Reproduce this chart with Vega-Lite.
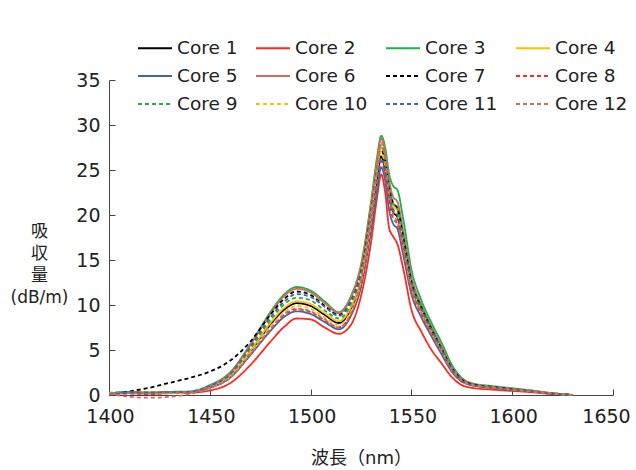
{
"$schema":"https://vega.github.io/schema/vega-lite/v6.json",
"width":504,"height":315,
"autosize":{"type":"none"},
"padding":{"left":109,"top":80,"right":23,"bottom":75},
"background":"white",
"config":{"view":{"stroke":null},"font":"DejaVu Sans"},
"data":{"values":[
{"core":"Core 1","nm":1400,"dB":0.2},{"core":"Core 1","nm":1410,"dB":0.3},{"core":"Core 1","nm":1420,"dB":0.25},{"core":"Core 1","nm":1430,"dB":0.3},{"core":"Core 1","nm":1440,"dB":0.35},{"core":"Core 1","nm":1450,"dB":0.9},{"core":"Core 1","nm":1460,"dB":2.1},{"core":"Core 1","nm":1470,"dB":4.8},{"core":"Core 1","nm":1480,"dB":7.8},{"core":"Core 1","nm":1487,"dB":9.5},{"core":"Core 1","nm":1493,"dB":10.2},{"core":"Core 1","nm":1500,"dB":9.9},{"core":"Core 1","nm":1507,"dB":8.9},{"core":"Core 1","nm":1514,"dB":8.0},{"core":"Core 1","nm":1520,"dB":9.6},{"core":"Core 1","nm":1525,"dB":12.8},{"core":"Core 1","nm":1530,"dB":19.3},{"core":"Core 1","nm":1533,"dB":24.0},{"core":"Core 1","nm":1535,"dB":26.5},{"core":"Core 1","nm":1537,"dB":25.0},{"core":"Core 1","nm":1539,"dB":22.0},{"core":"Core 1","nm":1541,"dB":20.3},{"core":"Core 1","nm":1543,"dB":19.8},{"core":"Core 1","nm":1546,"dB":16.5},{"core":"Core 1","nm":1550,"dB":12.0},{"core":"Core 1","nm":1555,"dB":9.3},{"core":"Core 1","nm":1560,"dB":7.0},{"core":"Core 1","nm":1565,"dB":4.9},{"core":"Core 1","nm":1570,"dB":2.9},{"core":"Core 1","nm":1575,"dB":1.7},{"core":"Core 1","nm":1580,"dB":1.2},{"core":"Core 1","nm":1590,"dB":0.85},{"core":"Core 1","nm":1600,"dB":0.6},{"core":"Core 1","nm":1610,"dB":0.4},{"core":"Core 1","nm":1620,"dB":0.15},{"core":"Core 1","nm":1630,"dB":0.0},
{"core":"Core 2","nm":1400,"dB":0.1},{"core":"Core 2","nm":1410,"dB":0.2},{"core":"Core 2","nm":1420,"dB":0.15},{"core":"Core 2","nm":1430,"dB":0.2},{"core":"Core 2","nm":1440,"dB":0.25},{"core":"Core 2","nm":1450,"dB":0.5},{"core":"Core 2","nm":1460,"dB":1.3},{"core":"Core 2","nm":1470,"dB":3.3},{"core":"Core 2","nm":1480,"dB":5.9},{"core":"Core 2","nm":1487,"dB":7.6},{"core":"Core 2","nm":1493,"dB":8.5},{"core":"Core 2","nm":1500,"dB":8.4},{"core":"Core 2","nm":1507,"dB":7.5},{"core":"Core 2","nm":1514,"dB":6.8},{"core":"Core 2","nm":1520,"dB":7.8},{"core":"Core 2","nm":1525,"dB":11.0},{"core":"Core 2","nm":1530,"dB":17.0},{"core":"Core 2","nm":1533,"dB":22.0},{"core":"Core 2","nm":1535,"dB":24.5},{"core":"Core 2","nm":1537,"dB":22.5},{"core":"Core 2","nm":1539,"dB":18.5},{"core":"Core 2","nm":1541,"dB":17.6},{"core":"Core 2","nm":1543,"dB":16.8},{"core":"Core 2","nm":1546,"dB":14.0},{"core":"Core 2","nm":1550,"dB":9.5},{"core":"Core 2","nm":1555,"dB":7.0},{"core":"Core 2","nm":1560,"dB":5.0},{"core":"Core 2","nm":1565,"dB":3.5},{"core":"Core 2","nm":1570,"dB":2.0},{"core":"Core 2","nm":1575,"dB":1.1},{"core":"Core 2","nm":1580,"dB":0.8},{"core":"Core 2","nm":1590,"dB":0.6},{"core":"Core 2","nm":1600,"dB":0.45},{"core":"Core 2","nm":1610,"dB":0.3},{"core":"Core 2","nm":1620,"dB":0.1},{"core":"Core 2","nm":1630,"dB":0.0},
{"core":"Core 3","nm":1400,"dB":0.2},{"core":"Core 3","nm":1410,"dB":0.3},{"core":"Core 3","nm":1420,"dB":0.3},{"core":"Core 3","nm":1430,"dB":0.35},{"core":"Core 3","nm":1440,"dB":0.4},{"core":"Core 3","nm":1450,"dB":1.1},{"core":"Core 3","nm":1460,"dB":2.5},{"core":"Core 3","nm":1470,"dB":5.6},{"core":"Core 3","nm":1480,"dB":9.2},{"core":"Core 3","nm":1487,"dB":11.2},{"core":"Core 3","nm":1493,"dB":12.0},{"core":"Core 3","nm":1500,"dB":11.6},{"core":"Core 3","nm":1507,"dB":10.4},{"core":"Core 3","nm":1514,"dB":9.2},{"core":"Core 3","nm":1520,"dB":11.0},{"core":"Core 3","nm":1525,"dB":14.5},{"core":"Core 3","nm":1530,"dB":21.5},{"core":"Core 3","nm":1533,"dB":26.5},{"core":"Core 3","nm":1535,"dB":28.8},{"core":"Core 3","nm":1537,"dB":27.5},{"core":"Core 3","nm":1539,"dB":24.5},{"core":"Core 3","nm":1541,"dB":23.2},{"core":"Core 3","nm":1543,"dB":22.8},{"core":"Core 3","nm":1546,"dB":19.5},{"core":"Core 3","nm":1550,"dB":14.0},{"core":"Core 3","nm":1555,"dB":10.5},{"core":"Core 3","nm":1560,"dB":8.0},{"core":"Core 3","nm":1565,"dB":5.8},{"core":"Core 3","nm":1570,"dB":3.4},{"core":"Core 3","nm":1575,"dB":1.9},{"core":"Core 3","nm":1580,"dB":1.3},{"core":"Core 3","nm":1590,"dB":1.0},{"core":"Core 3","nm":1600,"dB":0.75},{"core":"Core 3","nm":1610,"dB":0.5},{"core":"Core 3","nm":1620,"dB":0.2},{"core":"Core 3","nm":1630,"dB":0.0},
{"core":"Core 4","nm":1400,"dB":0.25},{"core":"Core 4","nm":1410,"dB":0.2},{"core":"Core 4","nm":1420,"dB":0.3},{"core":"Core 4","nm":1430,"dB":0.25},{"core":"Core 4","nm":1440,"dB":0.35},{"core":"Core 4","nm":1450,"dB":0.9},{"core":"Core 4","nm":1460,"dB":2.1},{"core":"Core 4","nm":1470,"dB":4.9},{"core":"Core 4","nm":1480,"dB":8.0},{"core":"Core 4","nm":1487,"dB":9.7},{"core":"Core 4","nm":1493,"dB":10.4},{"core":"Core 4","nm":1500,"dB":10.1},{"core":"Core 4","nm":1507,"dB":9.1},{"core":"Core 4","nm":1514,"dB":8.2},{"core":"Core 4","nm":1520,"dB":9.8},{"core":"Core 4","nm":1525,"dB":13.1},{"core":"Core 4","nm":1530,"dB":19.8},{"core":"Core 4","nm":1533,"dB":24.8},{"core":"Core 4","nm":1535,"dB":27.5},{"core":"Core 4","nm":1537,"dB":26.0},{"core":"Core 4","nm":1539,"dB":22.8},{"core":"Core 4","nm":1541,"dB":21.0},{"core":"Core 4","nm":1543,"dB":20.5},{"core":"Core 4","nm":1546,"dB":17.0},{"core":"Core 4","nm":1550,"dB":12.3},{"core":"Core 4","nm":1555,"dB":9.5},{"core":"Core 4","nm":1560,"dB":7.2},{"core":"Core 4","nm":1565,"dB":5.0},{"core":"Core 4","nm":1570,"dB":3.0},{"core":"Core 4","nm":1575,"dB":1.7},{"core":"Core 4","nm":1580,"dB":1.2},{"core":"Core 4","nm":1590,"dB":0.9},{"core":"Core 4","nm":1600,"dB":0.65},{"core":"Core 4","nm":1610,"dB":0.45},{"core":"Core 4","nm":1620,"dB":0.2},{"core":"Core 4","nm":1630,"dB":0.0},
{"core":"Core 5","nm":1400,"dB":0.15},{"core":"Core 5","nm":1410,"dB":0.25},{"core":"Core 5","nm":1420,"dB":0.2},{"core":"Core 5","nm":1430,"dB":0.3},{"core":"Core 5","nm":1440,"dB":0.3},{"core":"Core 5","nm":1450,"dB":0.8},{"core":"Core 5","nm":1460,"dB":1.9},{"core":"Core 5","nm":1470,"dB":4.4},{"core":"Core 5","nm":1480,"dB":7.1},{"core":"Core 5","nm":1487,"dB":8.7},{"core":"Core 5","nm":1493,"dB":9.3},{"core":"Core 5","nm":1500,"dB":9.0},{"core":"Core 5","nm":1507,"dB":8.1},{"core":"Core 5","nm":1514,"dB":7.3},{"core":"Core 5","nm":1520,"dB":8.8},{"core":"Core 5","nm":1525,"dB":12.0},{"core":"Core 5","nm":1530,"dB":18.3},{"core":"Core 5","nm":1533,"dB":22.8},{"core":"Core 5","nm":1535,"dB":25.3},{"core":"Core 5","nm":1537,"dB":23.8},{"core":"Core 5","nm":1539,"dB":20.5},{"core":"Core 5","nm":1541,"dB":19.0},{"core":"Core 5","nm":1543,"dB":18.5},{"core":"Core 5","nm":1546,"dB":15.5},{"core":"Core 5","nm":1550,"dB":11.2},{"core":"Core 5","nm":1555,"dB":8.6},{"core":"Core 5","nm":1560,"dB":6.5},{"core":"Core 5","nm":1565,"dB":4.5},{"core":"Core 5","nm":1570,"dB":2.6},{"core":"Core 5","nm":1575,"dB":1.5},{"core":"Core 5","nm":1580,"dB":1.1},{"core":"Core 5","nm":1590,"dB":0.8},{"core":"Core 5","nm":1600,"dB":0.6},{"core":"Core 5","nm":1610,"dB":0.4},{"core":"Core 5","nm":1620,"dB":0.15},{"core":"Core 5","nm":1630,"dB":0.0},
{"core":"Core 6","nm":1400,"dB":0.1},{"core":"Core 6","nm":1410,"dB":0.2},{"core":"Core 6","nm":1420,"dB":0.2},{"core":"Core 6","nm":1430,"dB":0.25},{"core":"Core 6","nm":1440,"dB":0.3},{"core":"Core 6","nm":1450,"dB":1.0},{"core":"Core 6","nm":1460,"dB":2.4},{"core":"Core 6","nm":1470,"dB":5.5},{"core":"Core 6","nm":1480,"dB":9.0},{"core":"Core 6","nm":1487,"dB":11.0},{"core":"Core 6","nm":1493,"dB":11.8},{"core":"Core 6","nm":1500,"dB":11.4},{"core":"Core 6","nm":1507,"dB":10.2},{"core":"Core 6","nm":1514,"dB":9.1},{"core":"Core 6","nm":1520,"dB":10.8},{"core":"Core 6","nm":1525,"dB":14.2},{"core":"Core 6","nm":1530,"dB":21.2},{"core":"Core 6","nm":1533,"dB":26.0},{"core":"Core 6","nm":1535,"dB":28.5},{"core":"Core 6","nm":1537,"dB":27.0},{"core":"Core 6","nm":1539,"dB":23.8},{"core":"Core 6","nm":1541,"dB":22.0},{"core":"Core 6","nm":1543,"dB":21.5},{"core":"Core 6","nm":1546,"dB":18.2},{"core":"Core 6","nm":1550,"dB":13.2},{"core":"Core 6","nm":1555,"dB":10.0},{"core":"Core 6","nm":1560,"dB":7.6},{"core":"Core 6","nm":1565,"dB":5.4},{"core":"Core 6","nm":1570,"dB":3.1},{"core":"Core 6","nm":1575,"dB":1.8},{"core":"Core 6","nm":1580,"dB":1.3},{"core":"Core 6","nm":1590,"dB":0.9},{"core":"Core 6","nm":1600,"dB":0.7},{"core":"Core 6","nm":1610,"dB":0.45},{"core":"Core 6","nm":1620,"dB":0.2},{"core":"Core 6","nm":1630,"dB":0.0},
{"core":"Core 7","nm":1400,"dB":0.1},{"core":"Core 7","nm":1410,"dB":0.4},{"core":"Core 7","nm":1420,"dB":0.8},{"core":"Core 7","nm":1430,"dB":1.35},{"core":"Core 7","nm":1440,"dB":1.9},{"core":"Core 7","nm":1450,"dB":2.6},{"core":"Core 7","nm":1460,"dB":3.8},{"core":"Core 7","nm":1470,"dB":5.9},{"core":"Core 7","nm":1480,"dB":8.9},{"core":"Core 7","nm":1487,"dB":10.7},{"core":"Core 7","nm":1493,"dB":11.5},{"core":"Core 7","nm":1500,"dB":11.1},{"core":"Core 7","nm":1507,"dB":9.9},{"core":"Core 7","nm":1514,"dB":8.9},{"core":"Core 7","nm":1520,"dB":10.4},{"core":"Core 7","nm":1525,"dB":13.6},{"core":"Core 7","nm":1530,"dB":20.3},{"core":"Core 7","nm":1533,"dB":25.0},{"core":"Core 7","nm":1535,"dB":27.2},{"core":"Core 7","nm":1537,"dB":26.0},{"core":"Core 7","nm":1539,"dB":23.0},{"core":"Core 7","nm":1541,"dB":21.3},{"core":"Core 7","nm":1543,"dB":20.8},{"core":"Core 7","nm":1546,"dB":17.5},{"core":"Core 7","nm":1550,"dB":12.6},{"core":"Core 7","nm":1555,"dB":9.7},{"core":"Core 7","nm":1560,"dB":7.3},{"core":"Core 7","nm":1565,"dB":5.1},{"core":"Core 7","nm":1570,"dB":3.0},{"core":"Core 7","nm":1575,"dB":1.7},{"core":"Core 7","nm":1580,"dB":1.2},{"core":"Core 7","nm":1590,"dB":0.9},{"core":"Core 7","nm":1600,"dB":0.65},{"core":"Core 7","nm":1610,"dB":0.4},{"core":"Core 7","nm":1620,"dB":0.15},{"core":"Core 7","nm":1630,"dB":0.0},
{"core":"Core 8","nm":1400,"dB":0.2},{"core":"Core 8","nm":1410,"dB":0.15},{"core":"Core 8","nm":1420,"dB":0.1},{"core":"Core 8","nm":1430,"dB":0.2},{"core":"Core 8","nm":1440,"dB":0.3},{"core":"Core 8","nm":1450,"dB":0.8},{"core":"Core 8","nm":1460,"dB":1.9},{"core":"Core 8","nm":1470,"dB":4.5},{"core":"Core 8","nm":1480,"dB":7.3},{"core":"Core 8","nm":1487,"dB":8.9},{"core":"Core 8","nm":1493,"dB":9.5},{"core":"Core 8","nm":1500,"dB":9.2},{"core":"Core 8","nm":1507,"dB":8.3},{"core":"Core 8","nm":1514,"dB":7.5},{"core":"Core 8","nm":1520,"dB":9.0},{"core":"Core 8","nm":1525,"dB":12.3},{"core":"Core 8","nm":1530,"dB":18.8},{"core":"Core 8","nm":1533,"dB":23.5},{"core":"Core 8","nm":1535,"dB":26.0},{"core":"Core 8","nm":1537,"dB":24.4},{"core":"Core 8","nm":1539,"dB":21.2},{"core":"Core 8","nm":1541,"dB":19.6},{"core":"Core 8","nm":1543,"dB":19.0},{"core":"Core 8","nm":1546,"dB":15.9},{"core":"Core 8","nm":1550,"dB":11.5},{"core":"Core 8","nm":1555,"dB":8.9},{"core":"Core 8","nm":1560,"dB":6.7},{"core":"Core 8","nm":1565,"dB":4.7},{"core":"Core 8","nm":1570,"dB":2.7},{"core":"Core 8","nm":1575,"dB":1.5},{"core":"Core 8","nm":1580,"dB":1.1},{"core":"Core 8","nm":1590,"dB":0.8},{"core":"Core 8","nm":1600,"dB":0.55},{"core":"Core 8","nm":1610,"dB":0.35},{"core":"Core 8","nm":1620,"dB":0.15},{"core":"Core 8","nm":1630,"dB":0.0},
{"core":"Core 9","nm":1400,"dB":0.25},{"core":"Core 9","nm":1410,"dB":0.3},{"core":"Core 9","nm":1420,"dB":0.2},{"core":"Core 9","nm":1430,"dB":0.3},{"core":"Core 9","nm":1440,"dB":0.35},{"core":"Core 9","nm":1450,"dB":0.9},{"core":"Core 9","nm":1460,"dB":2.2},{"core":"Core 9","nm":1470,"dB":5.1},{"core":"Core 9","nm":1480,"dB":8.3},{"core":"Core 9","nm":1487,"dB":10.1},{"core":"Core 9","nm":1493,"dB":10.8},{"core":"Core 9","nm":1500,"dB":10.5},{"core":"Core 9","nm":1507,"dB":9.4},{"core":"Core 9","nm":1514,"dB":8.5},{"core":"Core 9","nm":1520,"dB":10.1},{"core":"Core 9","nm":1525,"dB":13.4},{"core":"Core 9","nm":1530,"dB":20.2},{"core":"Core 9","nm":1533,"dB":25.1},{"core":"Core 9","nm":1535,"dB":27.8},{"core":"Core 9","nm":1537,"dB":26.3},{"core":"Core 9","nm":1539,"dB":23.0},{"core":"Core 9","nm":1541,"dB":21.3},{"core":"Core 9","nm":1543,"dB":20.8},{"core":"Core 9","nm":1546,"dB":17.4},{"core":"Core 9","nm":1550,"dB":12.6},{"core":"Core 9","nm":1555,"dB":9.8},{"core":"Core 9","nm":1560,"dB":7.4},{"core":"Core 9","nm":1565,"dB":5.2},{"core":"Core 9","nm":1570,"dB":3.0},{"core":"Core 9","nm":1575,"dB":1.7},{"core":"Core 9","nm":1580,"dB":1.2},{"core":"Core 9","nm":1590,"dB":0.9},{"core":"Core 9","nm":1600,"dB":0.65},{"core":"Core 9","nm":1610,"dB":0.45},{"core":"Core 9","nm":1620,"dB":0.2},{"core":"Core 9","nm":1630,"dB":0.0},
{"core":"Core 10","nm":1400,"dB":0.2},{"core":"Core 10","nm":1410,"dB":0.25},{"core":"Core 10","nm":1420,"dB":0.3},{"core":"Core 10","nm":1430,"dB":0.2},{"core":"Core 10","nm":1440,"dB":0.3},{"core":"Core 10","nm":1450,"dB":0.85},{"core":"Core 10","nm":1460,"dB":2.0},{"core":"Core 10","nm":1470,"dB":4.7},{"core":"Core 10","nm":1480,"dB":7.6},{"core":"Core 10","nm":1487,"dB":9.2},{"core":"Core 10","nm":1493,"dB":9.9},{"core":"Core 10","nm":1500,"dB":9.6},{"core":"Core 10","nm":1507,"dB":8.6},{"core":"Core 10","nm":1514,"dB":7.8},{"core":"Core 10","nm":1520,"dB":9.3},{"core":"Core 10","nm":1525,"dB":12.6},{"core":"Core 10","nm":1530,"dB":19.2},{"core":"Core 10","nm":1533,"dB":24.2},{"core":"Core 10","nm":1535,"dB":27.0},{"core":"Core 10","nm":1537,"dB":25.4},{"core":"Core 10","nm":1539,"dB":22.2},{"core":"Core 10","nm":1541,"dB":20.5},{"core":"Core 10","nm":1543,"dB":20.0},{"core":"Core 10","nm":1546,"dB":16.7},{"core":"Core 10","nm":1550,"dB":12.0},{"core":"Core 10","nm":1555,"dB":9.3},{"core":"Core 10","nm":1560,"dB":7.0},{"core":"Core 10","nm":1565,"dB":4.9},{"core":"Core 10","nm":1570,"dB":2.9},{"core":"Core 10","nm":1575,"dB":1.6},{"core":"Core 10","nm":1580,"dB":1.1},{"core":"Core 10","nm":1590,"dB":0.85},{"core":"Core 10","nm":1600,"dB":0.6},{"core":"Core 10","nm":1610,"dB":0.4},{"core":"Core 10","nm":1620,"dB":0.15},{"core":"Core 10","nm":1630,"dB":0.0},
{"core":"Core 11","nm":1400,"dB":0.15},{"core":"Core 11","nm":1410,"dB":0.25},{"core":"Core 11","nm":1420,"dB":0.3},{"core":"Core 11","nm":1430,"dB":0.3},{"core":"Core 11","nm":1440,"dB":0.35},{"core":"Core 11","nm":1450,"dB":1.0},{"core":"Core 11","nm":1460,"dB":2.3},{"core":"Core 11","nm":1470,"dB":5.3},{"core":"Core 11","nm":1480,"dB":8.6},{"core":"Core 11","nm":1487,"dB":10.4},{"core":"Core 11","nm":1493,"dB":11.2},{"core":"Core 11","nm":1500,"dB":10.9},{"core":"Core 11","nm":1507,"dB":9.8},{"core":"Core 11","nm":1514,"dB":8.8},{"core":"Core 11","nm":1520,"dB":10.4},{"core":"Core 11","nm":1525,"dB":13.3},{"core":"Core 11","nm":1530,"dB":19.6},{"core":"Core 11","nm":1533,"dB":24.0},{"core":"Core 11","nm":1535,"dB":26.3},{"core":"Core 11","nm":1537,"dB":25.0},{"core":"Core 11","nm":1539,"dB":22.2},{"core":"Core 11","nm":1541,"dB":20.6},{"core":"Core 11","nm":1543,"dB":20.1},{"core":"Core 11","nm":1546,"dB":16.9},{"core":"Core 11","nm":1550,"dB":12.3},{"core":"Core 11","nm":1555,"dB":9.5},{"core":"Core 11","nm":1560,"dB":7.2},{"core":"Core 11","nm":1565,"dB":5.0},{"core":"Core 11","nm":1570,"dB":2.9},{"core":"Core 11","nm":1575,"dB":1.6},{"core":"Core 11","nm":1580,"dB":1.1},{"core":"Core 11","nm":1590,"dB":0.85},{"core":"Core 11","nm":1600,"dB":0.6},{"core":"Core 11","nm":1610,"dB":0.4},{"core":"Core 11","nm":1620,"dB":0.15},{"core":"Core 11","nm":1630,"dB":0.0},
{"core":"Core 12","nm":1400,"dB":0.1},{"core":"Core 12","nm":1410,"dB":-0.2},{"core":"Core 12","nm":1420,"dB":-0.3},{"core":"Core 12","nm":1430,"dB":-0.2},{"core":"Core 12","nm":1440,"dB":0.1},{"core":"Core 12","nm":1450,"dB":0.8},{"core":"Core 12","nm":1460,"dB":1.9},{"core":"Core 12","nm":1470,"dB":4.5},{"core":"Core 12","nm":1480,"dB":7.3},{"core":"Core 12","nm":1487,"dB":9.0},{"core":"Core 12","nm":1493,"dB":9.6},{"core":"Core 12","nm":1500,"dB":9.3},{"core":"Core 12","nm":1507,"dB":8.4},{"core":"Core 12","nm":1514,"dB":7.5},{"core":"Core 12","nm":1520,"dB":9.1},{"core":"Core 12","nm":1525,"dB":12.8},{"core":"Core 12","nm":1530,"dB":19.8},{"core":"Core 12","nm":1533,"dB":25.0},{"core":"Core 12","nm":1535,"dB":28.0},{"core":"Core 12","nm":1537,"dB":26.2},{"core":"Core 12","nm":1539,"dB":22.5},{"core":"Core 12","nm":1541,"dB":20.0},{"core":"Core 12","nm":1543,"dB":19.3},{"core":"Core 12","nm":1546,"dB":16.2},{"core":"Core 12","nm":1550,"dB":11.8},{"core":"Core 12","nm":1555,"dB":9.1},{"core":"Core 12","nm":1560,"dB":6.8},{"core":"Core 12","nm":1565,"dB":4.8},{"core":"Core 12","nm":1570,"dB":2.8},{"core":"Core 12","nm":1575,"dB":1.6},{"core":"Core 12","nm":1580,"dB":1.1},{"core":"Core 12","nm":1590,"dB":0.85},{"core":"Core 12","nm":1600,"dB":0.6},{"core":"Core 12","nm":1610,"dB":0.4},{"core":"Core 12","nm":1620,"dB":0.15},{"core":"Core 12","nm":1630,"dB":0.0}
]},
"mark":{"type":"line","interpolate":"monotone","strokeWidth":1.8,"clip":false},
"encoding":{
"x":{"field":"nm","type":"quantitative","scale":{"domain":[1400,1650],"nice":false,"zero":false},
 "axis":{"values":[1400,1450,1500,1550,1600,1650],"format":"d","title":"波長（nm）","titleFont":"DejaVu Sans, Noto Sans CJK JP","labelFont":"DejaVu Sans","grid":false,"tickSize":-6,"labelPadding":18,"labelFontSize":19,"labelColor":"#222","domainColor":"#444","tickColor":"#444","titleFontSize":18,"titleFontWeight":"normal","titleColor":"#222","titleY":63,"titleBaseline":"middle","labelFlush":false,"labelOverlap":false,"labelOffset":{"condition":{"test":"datum.value == 1650","value":-7},"value":1}}},
"y":{"field":"dB","type":"quantitative","scale":{"domain":[0,35],"nice":false},
 "axis":{"values":[0,5,10,15,20,25,30,35],"format":"d","title":["吸","収","量","(dB/m)"],"titleFont":"DejaVu Sans, Noto Sans CJK JP","labelFont":"DejaVu Sans","grid":false,"tickSize":-6,"labelPadding":15,"labelFontSize":19,"labelColor":"#222","domainColor":"#444","tickColor":"#444","titleFontSize":17,"titleFontWeight":"normal","titleColor":"#222","titleAngle":0,"titleAlign":"center","titleX":-70,"titleY":143,"titleBaseline":"top","titleLineHeight":22,"labelFlush":false}},
"color":{"field":"core","type":"nominal",
 "scale":{"domain":["Core 1","Core 5","Core 9","Core 2","Core 6","Core 10","Core 3","Core 7","Core 11","Core 4","Core 8","Core 12"],
  "range":["#000000","#3a67b5","#1db14b","#ff2a1a","#d46a5e","#ffc000","#1db14b","#000000","#3a67b5","#ffc000","#ff2a1a","#d46a5e"]},
 "legend":{"title":null,"orient":"none","direction":"vertical","legendX":28,"legendY":-50,"columns":4,"columnPadding":14,"rowPadding":-9,"symbolType":"stroke","symbolSize":1156,"symbolStrokeWidth":1.8,"labelFont":"DejaVu Sans","labelFontSize":18.5,"labelOffset":4,"padding":0,"labelColor":"#222"}},
"strokeDash":{"field":"core","type":"nominal",
 "scale":{"domain":["Core 1","Core 5","Core 9","Core 2","Core 6","Core 10","Core 3","Core 7","Core 11","Core 4","Core 8","Core 12"],
  "range":[[1,0],[1,0],[4,3],[1,0],[1,0],[4,3],[1,0],[4,3],[4,3],[1,0],[4,3],[4,3]]},
 "legend":{"title":null,"orient":"none","direction":"vertical","legendX":28,"legendY":-50,"columns":4,"columnPadding":14,"rowPadding":-9,"symbolType":"stroke","symbolSize":1156,"symbolStrokeWidth":1.8,"labelFont":"DejaVu Sans","labelFontSize":18.5,"labelOffset":4,"padding":0,"labelColor":"#222"}}
}
}
